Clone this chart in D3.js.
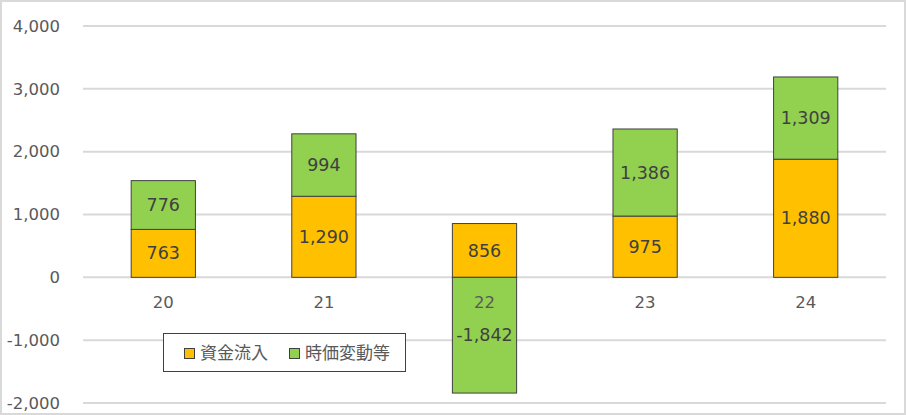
<!DOCTYPE html>
<html>
<head>
<meta charset="utf-8">
<script src="https://cdn.jsdelivr.net/npm/d3@7"></script>
<style>
  body { margin: 0; background: #fff; }
  svg { display: block; font-family: "DejaVu Sans", Verdana, sans-serif; }
</style>
</head>
<body>
<svg id="chart" width="906" height="415"></svg>
<script>
var categories = ["20", "21", "22", "23", "24"];
var inflow = [763, 1290, 856, 975, 1880];
var priceChange = [776, 994, -1842, 1386, 1309];
var seriesNames = ["資金流入", "時価変動等"];
var yTicks = [-2000, -1000, 0, 1000, 2000, 3000, 4000];

var colors = ["#FFC000", "#92D050"];

var svg = d3.select("#chart");
var width = 906, height = 415;

// outer frame
svg.append("rect")
  .attr("x", 1).attr("y", 1)
  .attr("width", width - 2).attr("height", height - 2)
  .attr("fill", "#fff")
  .attr("stroke", "#d9d9d9")
  .attr("stroke-width", 2);

var x = d3.scaleBand()
  .domain(categories)
  .range([83, 886])
  .paddingInner(0.6)
  .paddingOuter(0.3);

var y = d3.scaleLinear()
  .domain([-2000, 4000])
  .range([403, 26]);

// gridlines
svg.append("g")
  .selectAll("line")
  .data(yTicks)
  .enter().append("line")
  .attr("x1", 83).attr("x2", 886)
  .attr("y1", function(d) { return y(d); })
  .attr("y2", function(d) { return y(d); })
  .attr("stroke", "#d9d9d9")
  .attr("stroke-width", 2);

// plain hyphen for negatives, like the original
var fmt = function(v) { return d3.format(",")(v).replace("\u2212", "-"); };

// y axis labels
svg.append("g")
  .selectAll("text")
  .data(yTicks)
  .enter().append("text")
  .attr("x", 60)
  .attr("y", function(d) { return y(d); })
  .attr("dy", "0.35em")
  .attr("text-anchor", "end")
  .attr("font-size", 16.5)
  .attr("fill", "#595959")
  .text(function(d) { return fmt(d); });

// stack segments: positives stack up, negatives go down from zero
var segs = [];
categories.forEach(function(c, i) {
  var pos = 0, neg = 0;
  [inflow[i], priceChange[i]].forEach(function(v, s) {
    var y0, y1;
    if (v >= 0) { y0 = pos; y1 = pos + v; pos = y1; }
    else { y0 = neg + v; y1 = neg; neg = y0; }
    segs.push({ cat: c, s: s, v: v, y0: y0, y1: y1 });
  });
});

var bars = svg.append("g");
bars.selectAll("rect")
  .data(segs)
  .enter().append("rect")
  .attr("x", function(d) { return x(d.cat); })
  .attr("width", x.bandwidth())
  .attr("y", function(d) { return y(d.y1); })
  .attr("height", function(d) { return y(d.y0) - y(d.y1); })
  .attr("fill", function(d) { return colors[d.s]; })
  .attr("stroke", "#404040")
  .attr("stroke-width", 1);

// category labels
svg.append("g")
  .selectAll("text")
  .data(categories)
  .enter().append("text")
  .attr("x", function(d) { return x(d) + x.bandwidth() / 2; })
  .attr("y", 302)
  .attr("dy", "0.35em")
  .attr("text-anchor", "middle")
  .attr("font-size", 16.5)
  .attr("fill", "#595959")
  .text(function(d) { return d; });

// data labels
svg.append("g")
  .selectAll("text")
  .data(segs)
  .enter().append("text")
  .attr("x", function(d) { return x(d.cat) + x.bandwidth() / 2; })
  .attr("y", function(d) { return y((d.y0 + d.y1) / 2); })
  .attr("dy", "0.35em")
  .attr("text-anchor", "middle")
  .attr("font-size", 17.5)
  .attr("fill", "#404040")
  .text(function(d) { return fmt(d.v); });

// legend
var lg = svg.append("g");
lg.append("rect")
  .attr("x", 163.5).attr("y", 333.5)
  .attr("width", 242).attr("height", 38)
  .attr("fill", "#fff")
  .attr("stroke", "#404040")
  .attr("stroke-width", 1);

var legendX = [184, 289];
seriesNames.forEach(function(name, i) {
  lg.append("rect")
    .attr("x", legendX[i] + 0.5).attr("y", 348.5)
    .attr("width", 10).attr("height", 10)
    .attr("fill", colors[i])
    .attr("stroke", "#404040")
    .attr("stroke-width", 1);
  lg.append("text")
    .attr("x", legendX[i] + 16)
    .attr("y", 353.5)
    .attr("dy", "0.35em")
    .attr("font-size", 17)
    .attr("font-family", "'Noto Sans CJK JP', sans-serif")
    .attr("fill", "#595959")
    .text(name);
});
</script>
</body>
</html>
